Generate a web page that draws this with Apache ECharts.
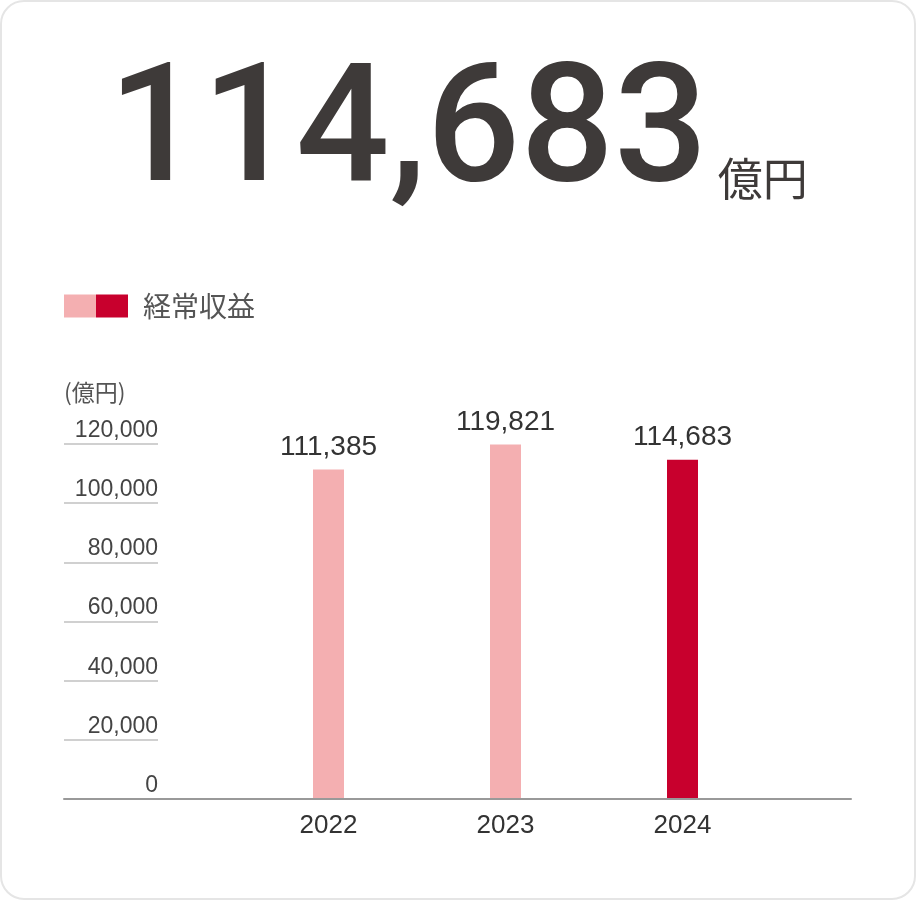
<!DOCTYPE html>
<html>
<head>
<meta charset="utf-8">
<script src="https://cdn.jsdelivr.net/npm/echarts@6/dist/echarts.min.js"></script>
<style>
html,body{margin:0;padding:0;background:#fff;}
#frame{position:absolute;left:0;top:0;width:916px;height:900px;box-sizing:border-box;border:2px solid #e5e5e5;border-radius:24px;pointer-events:none;}
#chart{position:absolute;left:0;top:0;width:916px;height:900px;}
</style>
</head>
<body>
<div id="chart"></div>
<div id="frame"></div>
<script>
// ---- data ----
const categories = ['2022', '2023', '2024'];
const values = [111385, 119821, 114683];
const seriesName = '経常収益';
const unit = '億円';
const axisUnit = '(億円)';
const yTicks = [0, 20000, 40000, 60000, 80000, 100000, 120000];
const highlightIndex = 2;

// ---- styles ----
const PINK = '#f4afb1';
const RED = '#c8002d';
const fmt = v => Number(v).toLocaleString('en-US');

const chart = echarts.init(document.getElementById('chart'));
const yMin = yTicks[0], yMax = yTicks[yTicks.length - 1], yStep = yTicks[1] - yTicks[0];
const legendGradient = {
  type: 'linear', x: 0, y: 0, x2: 1, y2: 0,
  colorStops: [
    {offset: 0, color: PINK}, {offset: 0.5, color: PINK},
    {offset: 0.5, color: RED}, {offset: 1, color: RED}
  ]
};

chart.setOption({
  animation: false,
  title: {
    left: 'center',
    top: 46,
    text: '{a|' + fmt(values[highlightIndex]) + '}{b|' + unit + '}',
    textStyle: {
      rich: {
        a: {fontFamily: 'Roboto', fontWeight: 500, fontSize: 165, color: '#3e3a39', lineHeight: 170, verticalAlign: 'bottom'},
        b: {fontFamily: 'Noto Sans CJK JP', fontWeight: 'normal', fontSize: 45, color: '#3e3a39', lineHeight: 60, verticalAlign: 'bottom', padding: [0, 0, 20, 10]}
      }
    }
  },
  legend: {
    left: 64,
    top: 292,
    padding: 0,
    icon: 'rect',
    itemWidth: 64,
    itemHeight: 23,
    data: [{name: seriesName, itemStyle: {color: legendGradient}}],
    textStyle: {fontFamily: 'Noto Sans CJK JP', fontSize: 28, color: '#555', padding: [0, 0, 0, 10]}
  },
  grid: [
    {left: 64, right: 65, top: 444, bottom: 101},
    {left: 240, right: 145, top: 444, bottom: 101}
  ],
  xAxis: [
    {
      gridIndex: 0, type: 'category', data: [''], z: 5,
      axisLine: {show: true, lineStyle: {color: '#999', width: 2}},
      axisTick: {show: false}, axisLabel: {show: false}, splitLine: {show: false}
    },
    {
      gridIndex: 1, type: 'category', data: categories,
      axisLine: {show: false}, axisTick: {show: false},
      axisLabel: {fontFamily: 'Liberation Sans, Arial', fontSize: 26, color: '#333', margin: 14}
    }
  ],
  yAxis: [
    {
      gridIndex: 0, type: 'value', min: yMin, max: yMax, interval: yStep, z: 1,
      name: axisUnit, nameLocation: 'end', nameGap: 40,
      nameTextStyle: {fontFamily: 'Noto Sans CJK JP', fontSize: 23, color: '#555', align: 'left'},
      axisLine: {show: false},
      axisTick: {show: true, inside: true, length: 94, lineStyle: {color: '#d0d0d0', width: 2}},
      splitLine: {show: false},
      axisLabel: {
        inside: true, margin: 94, align: 'right', verticalAlign: 'bottom',
        padding: [0, 0, 2, 0],
        fontFamily: 'Liberation Sans, Arial', fontSize: 23, color: '#444',
        formatter: v => fmt(v)
      }
    },
    {
      gridIndex: 1, type: 'value', min: yMin, max: yMax, interval: yStep, show: false
    }
  ],
  series: [{
    name: seriesName,
    type: 'bar',
    xAxisIndex: 1, yAxisIndex: 1,
    barWidth: 31,
    data: values.map((v, i) => ({value: v, itemStyle: {color: i === highlightIndex ? RED : PINK}})),
    label: {
      show: true, position: 'top', distance: 8,
      fontFamily: 'Liberation Sans, Arial', fontSize: 28, color: '#333',
      formatter: p => fmt(p.value)
    }
  }]
});
</script>
</body>
</html>
